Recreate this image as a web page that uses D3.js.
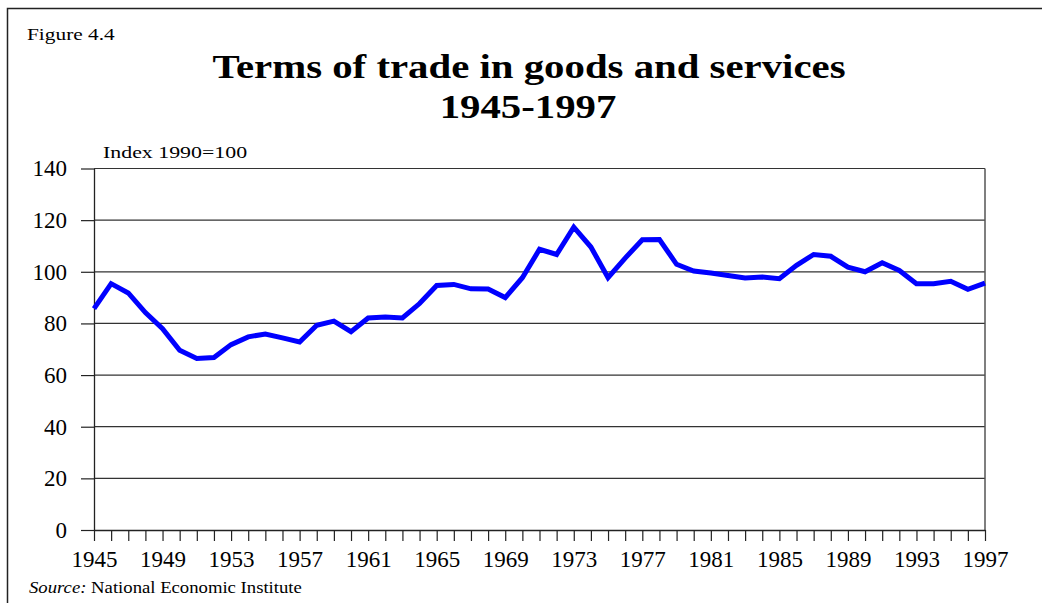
<html>
  <head>
    <script src="https://cdn.jsdelivr.net/npm/d3@7" charset="utf-8"></script>
    <style>
      body { margin: 0; background: #fff; }
      text { font-family: "Liberation Serif", "Times New Roman", serif; fill: #000; }
    </style>
  </head>
  <body>
    <div id="main"></div>
  <script>
    // terms of trade, index 1990=100
    var years = d3.range(1945, 1998);
    var values = [
      85.7, 95.4, 91.8, 84.2, 78.0, 69.6, 66.4, 66.8, 71.8, 74.8,
      75.9, 74.4, 72.8, 79.3, 80.9, 76.8, 82.1, 82.5, 82.1, 87.7,
      94.7, 95.1, 93.4, 93.3, 90.0, 97.7, 108.7, 106.7, 117.3, 109.6,
      97.7, 105.3, 112.4, 112.5, 102.9, 100.3, 99.5, 98.6, 97.6, 98.0,
      97.3, 102.5, 106.7, 106.0, 101.8, 100.0, 103.5, 100.5, 95.4, 95.4,
      96.3, 93.2, 95.6
    ];
    var yTicks = [0, 20, 40, 60, 80, 100, 120, 140];
    var xLabels = [1945, 1949, 1953, 1957, 1961, 1965, 1969, 1973, 1977, 1981, 1985, 1989, 1993, 1997];

    var svgWidth = 1042, svgHeight = 603;
    // plot box (don't call these top/left, window.top is taken)
    var plotLeft = 94, plotRight = 985, plotTop = 168.5, plotBottom = 530;

    var svg = d3.select('#main').append('svg')
      .attr('width', svgWidth)
      .attr('height', svgHeight);

    // outer frame (only top and left edges are visible)
    svg.append('rect')
      .attr('x', 7.5).attr('y', 8.5)
      .attr('width', 1100).attr('height', 700)
      .attr('fill', 'none').attr('stroke', '#222').attr('stroke-width', 1.5);

    var x = d3.scaleLinear().domain([1945, 1997]).range([plotLeft, plotRight]);
    var y = d3.scaleLinear().domain([0, 140]).range([plotBottom, plotTop]);

    // gridlines
    svg.append('g').selectAll('line')
      .data(yTicks.filter(function(d) { return d > 0; }))
      .enter().append('line')
      .attr('x1', plotLeft).attr('x2', plotRight)
      .attr('y1', function(d) { return y(d); })
      .attr('y2', function(d) { return y(d); })
      .attr('stroke', '#333').attr('stroke-width', 1.2);

    // right border of plot
    svg.append('line')
      .attr('x1', plotRight).attr('x2', plotRight)
      .attr('y1', plotTop).attr('y2', plotBottom)
      .attr('stroke', '#555').attr('stroke-width', 1.5);

    // y axis
    var yAxis = svg.append('g')
      .attr('transform', 'translate(' + plotLeft + ',0)')
      .call(d3.axisLeft(y).tickValues(yTicks).tickSizeInner(13).tickSizeOuter(0).tickPadding(14));
    yAxis.select('.domain').attr('stroke', '#222').attr('stroke-width', 1.3);
    yAxis.selectAll('.tick line').attr('stroke', '#222').attr('stroke-width', 1.2);
    yAxis.selectAll('.tick text')
      .style('font-size', '23px').style('font-family', '"Liberation Serif", serif')
      .attr('fill', '#000');

    // x axis
    var xAxis = svg.append('g')
      .attr('transform', 'translate(0,' + plotBottom + ')')
      .call(d3.axisBottom(x).tickValues(years).tickSizeInner(11).tickSizeOuter(0).tickPadding(10)
        .tickFormat(function(d) { return xLabels.indexOf(d) >= 0 ? d : ''; }));
    xAxis.select('.domain').attr('stroke', '#222').attr('stroke-width', 1.3);
    xAxis.selectAll('.tick line').attr('stroke', '#222').attr('stroke-width', 1.2);
    xAxis.selectAll('.tick text')
      .style('font-size', '23px').style('font-family', '"Liberation Serif", serif')
      .attr('fill', '#000');

    // data line
    var line = d3.line()
      .x(function(d, i) { return x(years[i]); })
      .y(function(d) { return y(d); });
    svg.append('path')
      .datum(values)
      .attr('d', line)
      .attr('fill', 'none')
      .attr('stroke', '#0000ff')
      .attr('stroke-width', 5)
      .attr('stroke-linejoin', 'miter');

    // the original lettering is a bit wider than the font, so stretch it sideways
    function label(px, py, size, sx, anchor) {
      return svg.append('text')
        .attr('transform', 'translate(' + px + ',' + py + ') scale(' + sx + ',1)')
        .attr('text-anchor', anchor || 'start')
        .style('font-size', size + 'px');
    }

    label(27, 40, 17.5, 1.22).text('Figure 4.4');
    label(529, 78, 34, 1.2, 'middle').style('font-weight', 'bold')
      .text('Terms of trade in goods and services');
    label(528, 118, 34, 1.2, 'middle').style('font-weight', 'bold')
      .text('1945-1997');
    label(103, 158, 17.5, 1.25).text('Index 1990=100');

    var src = label(29, 593, 17, 1.1);
    src.append('tspan').style('font-style', 'italic').text('Source:');
    src.append('tspan').text(' National Economic Institute');
  </script>
  </body>
</html>
